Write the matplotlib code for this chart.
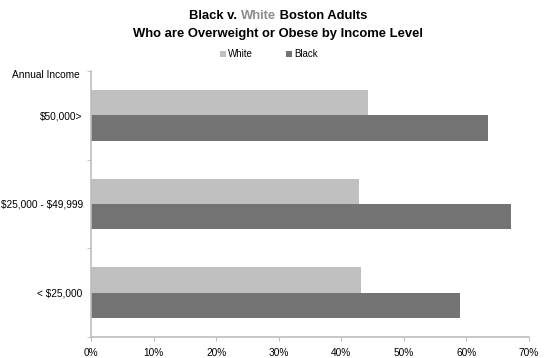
import numpy as np
import matplotlib.pyplot as plt

plt.rcParams['font.family'] = ['Liberation Sans', 'DejaVu Sans']
plt.rcParams['text.parse_math'] = False

# data
categories = ['< $25,000', '$25,000 - $49,999', '$50,000>']
white = [43.2, 42.8, 44.3]
black = [59.0, 67.2, 63.5]
xticks = [0, 10, 20, 30, 40, 50, 60, 70]

c_white = '#c0c0c0'
c_black = '#737373'
c_axis = '#bdbdbd'

fig = plt.figure(figsize=(5.5, 3.58), dpi=100)
ax = fig.add_axes([0.1655, 0.0587, 0.7963, 0.743])

y = np.arange(len(categories))
h = 0.285
ax.barh(y + h / 2, white, height=h, color=c_white, label='White')
ax.barh(y - h / 2, black, height=h, color=c_black, label='Black')

ax.set_xlim(0, 70)
ax.set_ylim(-0.5, len(categories) - 0.5)
ax.set_xticks(xticks)
ax.set_xticklabels([f'{t}%' for t in xticks], fontsize=7.3)
ax.set_yticks(y)
ax.set_yticklabels(categories, fontsize=7.3)
ax.tick_params(axis='y', length=0, pad=6)
ax.tick_params(axis='x', length=3, color=c_axis, pad=5)
ax.set_yticks(np.arange(-0.5, len(categories), 1), minor=True)
ax.tick_params(axis='y', which='minor', length=3, color=c_axis)

for s in ['top', 'right']:
    ax.spines[s].set_visible(False)
for s in ['left', 'bottom']:
    ax.spines[s].set_color(c_axis)
    ax.spines[s].set_linewidth(1.2)

fig.text(0.022, 0.79, 'Annual Income', fontsize=7.3, ha='left', va='center')

# title, first line with "White" in gray
parts = [('Black v. ', 'black'), ('White', '#8c8c8c'), (' Boston Adults', 'black')]
texts = []
t0 = fig.text(0.5, 0.955, parts[0][0], color=parts[0][1], fontsize=9.4,
              fontweight='bold', ha='left', va='center')
texts.append(t0)
prev = t0
for s, c in parts[1:]:
    t = ax.annotate(s, xy=(1, 0), xycoords=prev, color=c, fontsize=9.4,
                    fontweight='bold', ha='left', va='bottom',
                    annotation_clip=False)
    texts.append(t)
    prev = t
fig.canvas.draw()
r = fig.canvas.get_renderer()
x0 = t0.get_window_extent(r).x0
x1 = texts[-1].get_window_extent(r).x1
width = (x1 - x0) / fig.bbox.width
t0.set_x(0.506 - width / 2)

fig.text(0.506, 0.905, 'Who are Overweight or Obese by Income Level', fontsize=9.4,
         fontweight='bold', ha='center', va='center')

fig.legend(loc='center', bbox_to_anchor=(0.489, 0.848), ncol=2, frameon=False,
           fontsize=7, handlelength=0.6, handleheight=0.6, handletextpad=0.2,
           columnspacing=3.4)

fig.savefig('out.png', dpi=100)
